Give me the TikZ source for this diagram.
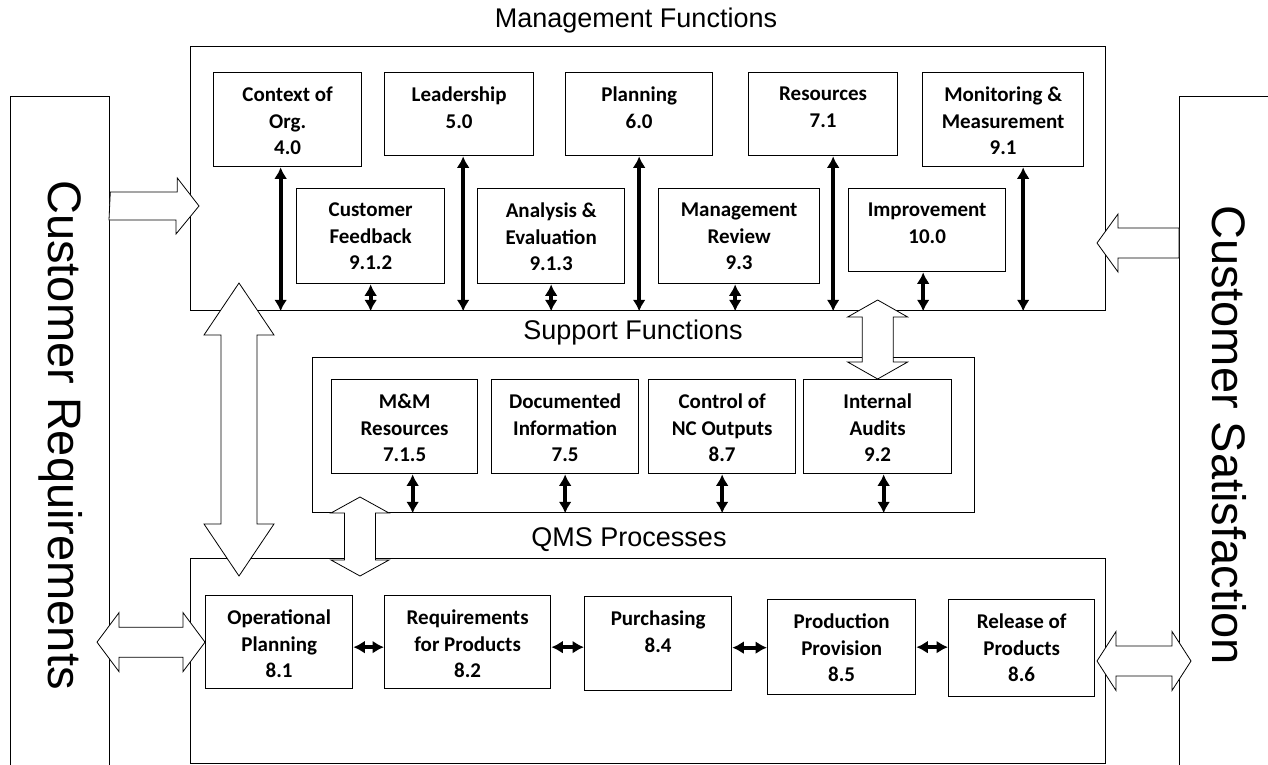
\documentclass[tikz,border=0pt]{standalone}
\usepackage{fontspec}
\setmainfont{Carlito}
\newfontfamily\arialfont{Liberation Sans}
\usepackage{tikz}
\usetikzlibrary{arrows.meta}
\newcommand{\qmsboxfont}{\fontsize{21pt}{26.5pt}\selectfont\bfseries}
\newcommand{\qmstitlefont}{\arialfont\fontsize{27pt}{32pt}\selectfont}
\newcommand{\qmssidefont}{\arialfont\fontsize{47pt}{56pt}\selectfont}

\begin{document}
\begin{tikzpicture}[
x=1pt,y=-1pt,
box/.style={draw,line width=1.3pt,anchor=north west,inner sep=0pt},
boxtext/.style={anchor=north,yshift=-15pt,align=center,inner sep=0pt,font=\qmsboxfont},
area/.style={draw,line width=1.3pt,anchor=north west,inner sep=0pt},
heading/.style={font=\qmstitlefont,inner sep=0pt},
sidetext/.style={font=\qmssidefont,rotate=-90,anchor=base,inner sep=0pt},
link/.style={{Latex[length=11.5pt,width=13pt]}-{Latex[length=11.5pt,width=13pt]},line width=4.2pt},
hollow/.style={draw,fill=white,line width=0.8pt,line join=miter}
]
\path[use as bounding box,fill=white] (0,0) rectangle (1268,765);

\node[area,minimum width=99pt,minimum height=680pt] (creq) at (10,96) {};
\node[area,minimum width=101pt,minimum height=680pt] (csat) at (1179,96) {};
\node[sidetext] (creqtext) at (48,435) {Customer Requirements};
\node[sidetext] (csattext) at (1212,435) {Customer Satisfaction};

\node[heading] (mgmthead) at (636,21) {Management Functions};
\node[area,minimum width=915pt,minimum height=264pt] (mgmt) at (190,46) {};
\node[box,minimum width=148pt,minimum height=94pt,label={[boxtext]north:{Context of\\Org.\\4.0}}] (ctx) at (213,72) {};
\node[box,minimum width=149pt,minimum height=83pt,label={[boxtext]north:{Leadership\\5.0}}] (lead) at (384,72) {};
\node[box,minimum width=147pt,minimum height=83pt,label={[boxtext]north:{Planning\\6.0}}] (plan) at (565,72) {};
\node[box,minimum width=149pt,minimum height=83pt,label={[boxtext]north:{Resources\\7.1}}] (res) at (748,72) {};
\node[box,minimum width=161pt,minimum height=94pt,label={[boxtext]north:{Monitoring \&\\Measurement\\9.1}}] (mon) at (922,72) {};
\node[box,minimum width=148pt,minimum height=95pt,label={[boxtext]north:{Customer\\Feedback\\9.1.2}}] (cfb) at (296,188) {};
\node[box,minimum width=147pt,minimum height=95pt,label={[boxtext]north:{Analysis \&\\Evaluation\\9.1.3}}] (ana) at (477,188) {};
\node[box,minimum width=161pt,minimum height=95pt,label={[boxtext]north:{Management\\Review\\9.3}}] (mrev) at (658,188) {};
\node[box,minimum width=157pt,minimum height=83pt,label={[boxtext]north:{Improvement\\10.0}}] (imp) at (848,188) {};

\draw[link] ([xshift=-7pt]ctx.south) -- ([xshift=-7pt]ctx.south |- mgmt.south);
\draw[link] (cfb.south) -- (cfb.south |- mgmt.south);
\draw[link] ([xshift=4pt]lead.south) -- ([xshift=4pt]lead.south |- mgmt.south);
\draw[link] (ana.south) -- (ana.south |- mgmt.south);
\draw[link] (plan.south) -- (plan.south |- mgmt.south);
\draw[link] ([xshift=-4pt]mrev.south) -- ([xshift=-4pt]mrev.south |- mgmt.south);
\draw[link] ([xshift=10pt]res.south) -- ([xshift=10pt]res.south |- mgmt.south);
\draw[link] ([xshift=-4pt]imp.south) -- ([xshift=-4pt]imp.south |- mgmt.south);
\draw[link] ([xshift=20pt]mon.south) -- ([xshift=20pt]mon.south |- mgmt.south);

\node[heading] (supphead) at (633,333) {Support Functions};
\node[area,minimum width=662pt,minimum height=155pt] (supp) at (312,357) {};
\node[box,minimum width=146pt,minimum height=94pt,label={[boxtext]north:{M\&M\\Resources\\7.1.5}}] (mm) at (331,379) {};
\node[box,minimum width=147pt,minimum height=94pt,label={[boxtext]north:{Documented\\Information\\7.5}}] (doc) at (491,379) {};
\node[box,minimum width=147pt,minimum height=94pt,label={[boxtext]north:{Control of\\NC Outputs\\8.7}}] (ncr) at (648,379) {};
\node[box,minimum width=148pt,minimum height=94pt,label={[boxtext]north:{Internal\\Audits\\9.2}}] (aud) at (803,379) {};

\draw[link] ([xshift=8pt]mm.south) -- ([xshift=8pt]mm.south |- supp.south);
\draw[link] (doc.south) -- (doc.south |- supp.south);
\draw[link] (ncr.south) -- (ncr.south |- supp.south);
\draw[link] ([xshift=6pt]aud.south) -- ([xshift=6pt]aud.south |- supp.south);

\node[heading] (qmshead) at (629,540) {QMS Processes};
\node[area,minimum width=915pt,minimum height=205pt] (qms) at (190,558) {};
\node[box,minimum width=147pt,minimum height=93pt,label={[boxtext]north:{Operational\\Planning\\8.1}}] (op) at (205,595) {};
\node[box,minimum width=166pt,minimum height=93pt,label={[boxtext]north:{Requirements\\for Products\\8.2}}] (req) at (384,595) {};
\node[box,minimum width=147pt,minimum height=94pt,label={[boxtext]north:{Purchasing\\8.4}}] (pur) at (584,596) {};
\node[box,minimum width=148pt,minimum height=95pt,label={[boxtext]north:{Production\\Provision\\8.5}}] (prod) at (767,599) {};
\node[box,minimum width=146pt,minimum height=97pt,label={[boxtext]north:{Release of\\Products\\8.6}}] (rel) at (948,599) {};

\draw[link] ([yshift=-5pt]op.east) -- ([yshift=-5pt]op.east -| req.west);
\draw[link] ([yshift=-5pt]req.east) -- ([yshift=-5pt]req.east -| pur.west);
\draw[link] ([yshift=-4pt]pur.east) -- ([yshift=-4pt]pur.east -| prod.west);
\draw[link] (prod.east) -- (prod.east -| rel.west);

\coordinate (reqin) at (199,206);
\coordinate (satin) at (1097,243);
\coordinate (mgmtqms) at (239,283);
\coordinate (suppqms) at (360,497);
\coordinate (relout) at (1097,661);

\draw[hollow] (creq.east |- reqin) ++(0,-14) -- ++(67,0) -- ++(0,-14) -- (reqin) -- ++(-23,28) -- ++(0,-14) -- ++(-67,0) -- cycle;
\draw[hollow] (csat.west |- satin) ++(0,-15) -- ++(-61,0) -- ++(0,-14) -- (satin) -- ++(21,29) -- ++(0,-14) -- ++(61,0) -- cycle;
\draw[hollow] (op.west) -- ++(-22,-29.5) -- ++(0,14.5) -- ++(-64,0) -- ++(0,-14.5) -- ++(-22,29.5) -- ++(22,29.5) -- ++(0,-14.5) -- ++(64,0) -- ++(0,14.5) -- cycle;
\draw[hollow] (relout) -- ++(19,-29.5) -- ++(0,14.5) -- ++(56,0) -- ++(0,-14.5) -- ++(19,29.5) -- ++(-19,29.5) -- ++(0,-14.5) -- ++(-56,0) -- ++(0,14.5) -- cycle;
\draw[hollow] (mgmtqms) -- ++(-35,52) -- ++(17,0) -- ++(0,189) -- ++(-17,0) -- ++(35,52) -- ++(35,-52) -- ++(-17,0) -- ++(0,-189) -- ++(17,0) -- cycle;
\draw[hollow] (aud.north) -- ++(-30,-17) -- ++(14.5,0) -- ++(0,-45) -- ++(-14.5,0) -- ++(30,-17) -- ++(30,17) -- ++(-14.5,0) -- ++(0,45) -- ++(14.5,0) -- cycle;
\draw[hollow] (suppqms) -- ++(-29,16) -- ++(13.5,0) -- ++(0,47) -- ++(-13.5,0) -- ++(29,16) -- ++(29,-16) -- ++(-13.5,0) -- ++(0,-47) -- ++(13.5,0) -- cycle;
\end{tikzpicture}
\end{document}
